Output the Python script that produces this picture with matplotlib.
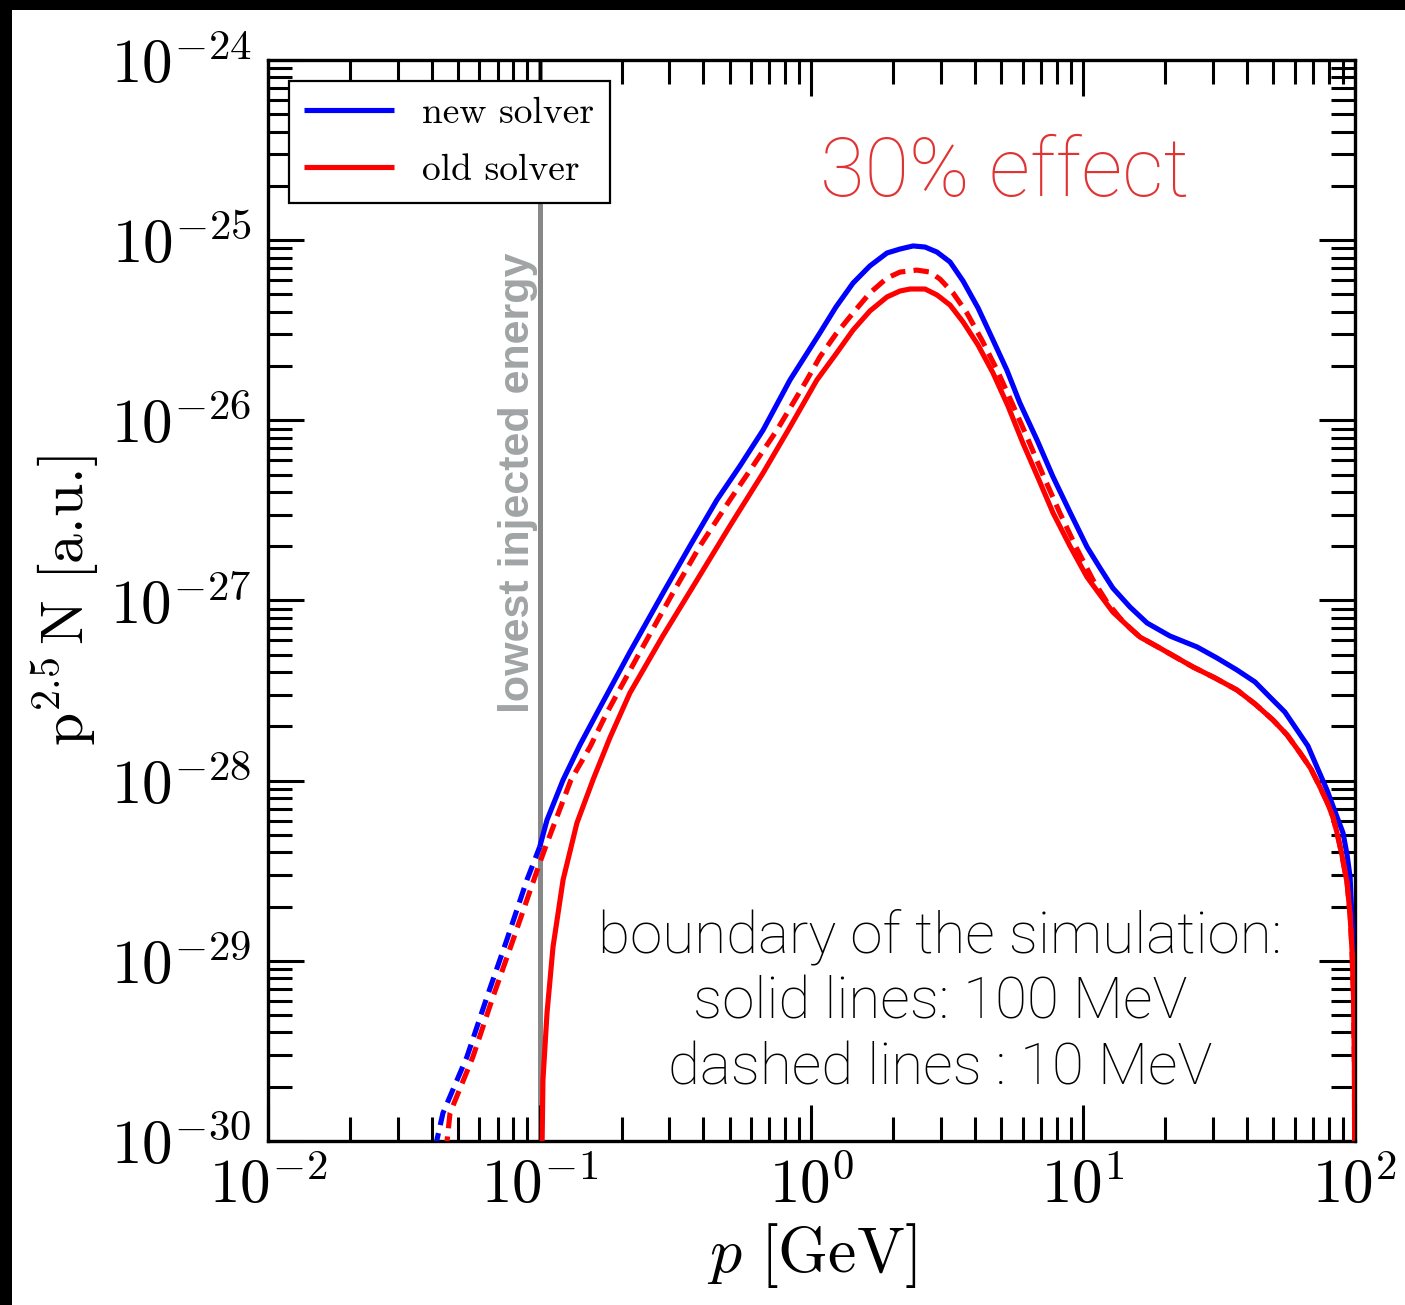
import numpy as np
import matplotlib
matplotlib.use("Agg")
import matplotlib.pyplot as plt
from matplotlib.ticker import LogLocator, FuncFormatter, NullFormatter
from matplotlib.patches import Rectangle

plt.rcParams['mathtext.fontset'] = 'cm'
plt.rcParams['font.family'] = 'serif'
plt.rcParams['font.serif'] = ['cmr10', 'DejaVu Serif']
plt.rcParams['axes.formatter.use_mathtext'] = True

# ---- data (log10 values) ----
# new solver, boundary 100 MeV (solid blue)
logp_new = [-1.000, -0.973, -0.914, -0.852, -0.789, -0.668, -0.546, -0.447, -0.348, -0.263,
            -0.178, -0.079, 0.031, 0.090, 0.153, 0.215, 0.278, 0.326, 0.374, 0.418,
            0.462, 0.510, 0.558, 0.613, 0.668, 0.719, 0.767, 0.830, 0.889, 0.951,
            1.014, 1.062, 1.109, 1.172, 1.235, 1.319, 1.419, 1.492, 1.566, 1.632,
            1.687, 1.742, 1.787, 1.827, 1.860, 1.897, 1.934, 1.956, 1.971, 1.982,
            1.993, 1.998, 2.000]
logN_new = [-28.368, -28.218, -27.996, -27.802, -27.624, -27.286, -26.958, -26.697, -26.442, -26.253,
            -26.054, -25.776, -25.515, -25.371, -25.238, -25.143, -25.071, -25.049, -25.032, -25.038,
            -25.066, -25.121, -25.227, -25.376, -25.554, -25.721, -25.904, -26.109, -26.314, -26.509,
            -26.703, -26.820, -26.931, -27.036, -27.125, -27.197, -27.258, -27.319, -27.386, -27.452,
            -27.536, -27.619, -27.719, -27.808, -27.924, -28.052, -28.202, -28.290, -28.413, -28.535,
            -28.884, -29.217, -31.0]

# new solver, boundary 10 MeV (dashed blue, visible below 100 MeV)
logp_new_10 = [-1.385, -1.356, -1.268, -1.194, -1.121, -1.047, -1.000]
logN_new_10 = [-30.04, -29.845, -29.534, -29.201, -28.884, -28.551, -28.368]

# old solver, boundary 100 MeV (solid red)
logp_old = [-1.000, -0.988, -0.973, -0.951, -0.914, -0.863, -0.804, -0.742, -0.668, -0.547,
            -0.421, -0.300, -0.178, -0.079, 0.020, 0.090, 0.153, 0.215, 0.278, 0.326,
            0.363, 0.418, 0.462, 0.510, 0.558, 0.613, 0.668, 0.723, 0.778, 0.834,
            0.889, 0.951, 1.014, 1.062, 1.109, 1.172, 1.209, 1.282, 1.404, 1.485,
            1.566, 1.632, 1.698, 1.750, 1.798, 1.838, 1.871, 1.897, 1.919, 1.934,
            1.952, 1.971, 1.982, 1.989, 1.995, 1.998, 2.000]
logN_old = [-31.0, -29.661, -29.289, -28.923, -28.551, -28.235, -27.996, -27.763, -27.513, -27.197,
            -26.886, -26.586, -26.292, -26.037, -25.776, -25.632, -25.499, -25.393, -25.315, -25.282,
            -25.271, -25.271, -25.304, -25.360, -25.454, -25.582, -25.737, -25.920, -26.126, -26.320,
            -26.514, -26.697, -26.870, -26.969, -27.064, -27.153, -27.203, -27.264, -27.369, -27.430,
            -27.497, -27.574, -27.663, -27.746, -27.846, -27.935, -28.035, -28.118, -28.202, -28.290,
            -28.413, -28.568, -28.746, -28.940, -29.217, -29.606, -31.0]

# old solver, boundary 10 MeV (dashed red)
logp_old_10 = [-1.345, -1.330, -1.246, -1.172, -1.098, -1.000, -0.973, -0.885, -0.815, -0.753,
               -0.631, -0.510, -0.410, -0.300, -0.208, -0.127, -0.017, 0.031, 0.090, 0.153,
               0.215, 0.278, 0.326, 0.388, 0.436, 0.473, 0.521, 0.572, 0.627, 0.683,
               0.738, 0.793, 0.852, 0.914, 0.977, 1.036, 1.087, 1.135, 1.172, 1.209,
               1.282, 1.404, 1.485, 1.566, 1.632, 1.698, 1.750, 1.798, 1.838, 1.871,
               1.897, 1.919, 1.934, 1.952, 1.971, 1.982, 1.989, 1.995, 1.998, 2.000]
logN_old_10 = [-30.06, -29.845, -29.534, -29.201, -28.884, -28.457, -28.346, -27.996, -27.813, -27.624,
               -27.286, -26.958, -26.697, -26.442, -26.237, -26.054, -25.776, -25.648, -25.521, -25.404,
               -25.293, -25.210, -25.177, -25.166, -25.177, -25.216, -25.293, -25.404, -25.554, -25.721,
               -25.904, -26.092, -26.303, -26.514, -26.714, -26.886, -27.008, -27.097, -27.153, -27.203,
               -27.264, -27.369, -27.430, -27.497, -27.574, -27.663, -27.746, -27.846, -27.935, -28.035,
               -28.118, -28.202, -28.290, -28.413, -28.568, -28.746, -28.940, -29.217, -29.606, -31.0]

p_inj = 0.1  # lowest injected energy [GeV]

series_labels = ["new solver", "old solver"]

# ---- figure ----
fig = plt.figure(figsize=(14.05, 13.05), dpi=100)
fig.patch.set_facecolor('white')
ax = fig.add_axes([0.1907, 0.1257, 0.7737, 0.8283])

lw = 3.7
dash = (3.0, 1.6)
ax.axvline(p_inj, color='#888888', lw=3.6, zorder=1)
l1, = ax.plot(10**np.array(logp_new), 10**np.array(logN_new), color='#0000ff', lw=lw, zorder=3,
              solid_capstyle='butt', solid_joinstyle='round')
ax.plot(10**np.array(logp_new_10), 10**np.array(logN_new_10), color='#0000ff', lw=lw, zorder=3,
        dashes=dash)
ax.plot(10**np.array(logp_old_10), 10**np.array(logN_old_10), color='#ff0000', lw=lw, zorder=4,
        dashes=dash)
l2, = ax.plot(10**np.array(logp_old), 10**np.array(logN_old), color='#ff0000', lw=lw, zorder=5,
              solid_capstyle='butt', solid_joinstyle='round')

ax.set_xscale('log')
ax.set_yscale('log')
ax.set_xlim(1e-2, 1e2)
ax.set_ylim(1e-30, 1e-24)

fmt = FuncFormatter(lambda v, pos: r'$10^{%d}$' % int(round(np.log10(v))))
ax.xaxis.set_major_locator(LogLocator(base=10, numticks=20))
ax.yaxis.set_major_locator(LogLocator(base=10, numticks=20))
ax.xaxis.set_minor_locator(LogLocator(base=10, subs=np.arange(2, 10), numticks=50))
ax.yaxis.set_minor_locator(LogLocator(base=10, subs=np.arange(2, 10), numticks=50))
ax.xaxis.set_major_formatter(fmt)
ax.yaxis.set_major_formatter(fmt)
ax.xaxis.set_minor_formatter(NullFormatter())
ax.yaxis.set_minor_formatter(NullFormatter())

ax.tick_params(which='both', direction='in', top=True, right=True, width=2.2, labelsize=44)
ax.tick_params(which='major', length=26, pad=12)
ax.tick_params(which='minor', length=17)
for s in ax.spines.values():
    s.set_linewidth(2.4)

ax.set_xlabel(r'$p\ [\mathrm{GeV}]$', fontsize=46, labelpad=4)
ax.set_ylabel(r'$\mathrm{p}^{2.5}\,\mathrm{N}$ [a.u.]', fontsize=43, labelpad=6)

leg = ax.legend([l1, l2], series_labels, loc='upper left', fontsize=27, handlelength=2.4,
                borderaxespad=0.55, frameon=True, fancybox=False, framealpha=1,
                edgecolor='black', labelspacing=0.65, handletextpad=0.75, borderpad=0.42)
leg.get_frame().set_linewidth(1.6)
leg.set_zorder(10)

sans_thin = ['Roboto', 'Lato', 'DejaVu Sans']
ax.text(0.678, 0.895, '30% effect', transform=ax.transAxes, ha='center', va='center',
        fontsize=58.5, color='#e03434', family=sans_thin, fontweight='light')
ax.text(0.618, 0.128, 'boundary of the simulation:\nsolid lines: 100 MeV\ndashed lines : 10 MeV',
        transform=ax.transAxes, ha='center', va='center', fontsize=42, color='black',
        family=sans_thin, fontweight='light', linespacing=1.25)
ax.text(0.2305, 0.609, 'lowest injected energy', transform=ax.transAxes, rotation=90,
        ha='center', va='center', fontsize=31, color='#a0a4a4',
        family=['Liberation Sans', 'DejaVu Sans'], fontweight='bold')

# screenshot-like black frame on top and left edges
fig.add_artist(Rectangle((0, 1 - 10 / 1305), 1, 10 / 1305, transform=fig.transFigure,
                         facecolor='black', edgecolor='none', zorder=20))
fig.add_artist(Rectangle((0, 0), 12 / 1405, 1, transform=fig.transFigure,
                         facecolor='black', edgecolor='none', zorder=20))

fig.savefig('out.png', dpi=100)
